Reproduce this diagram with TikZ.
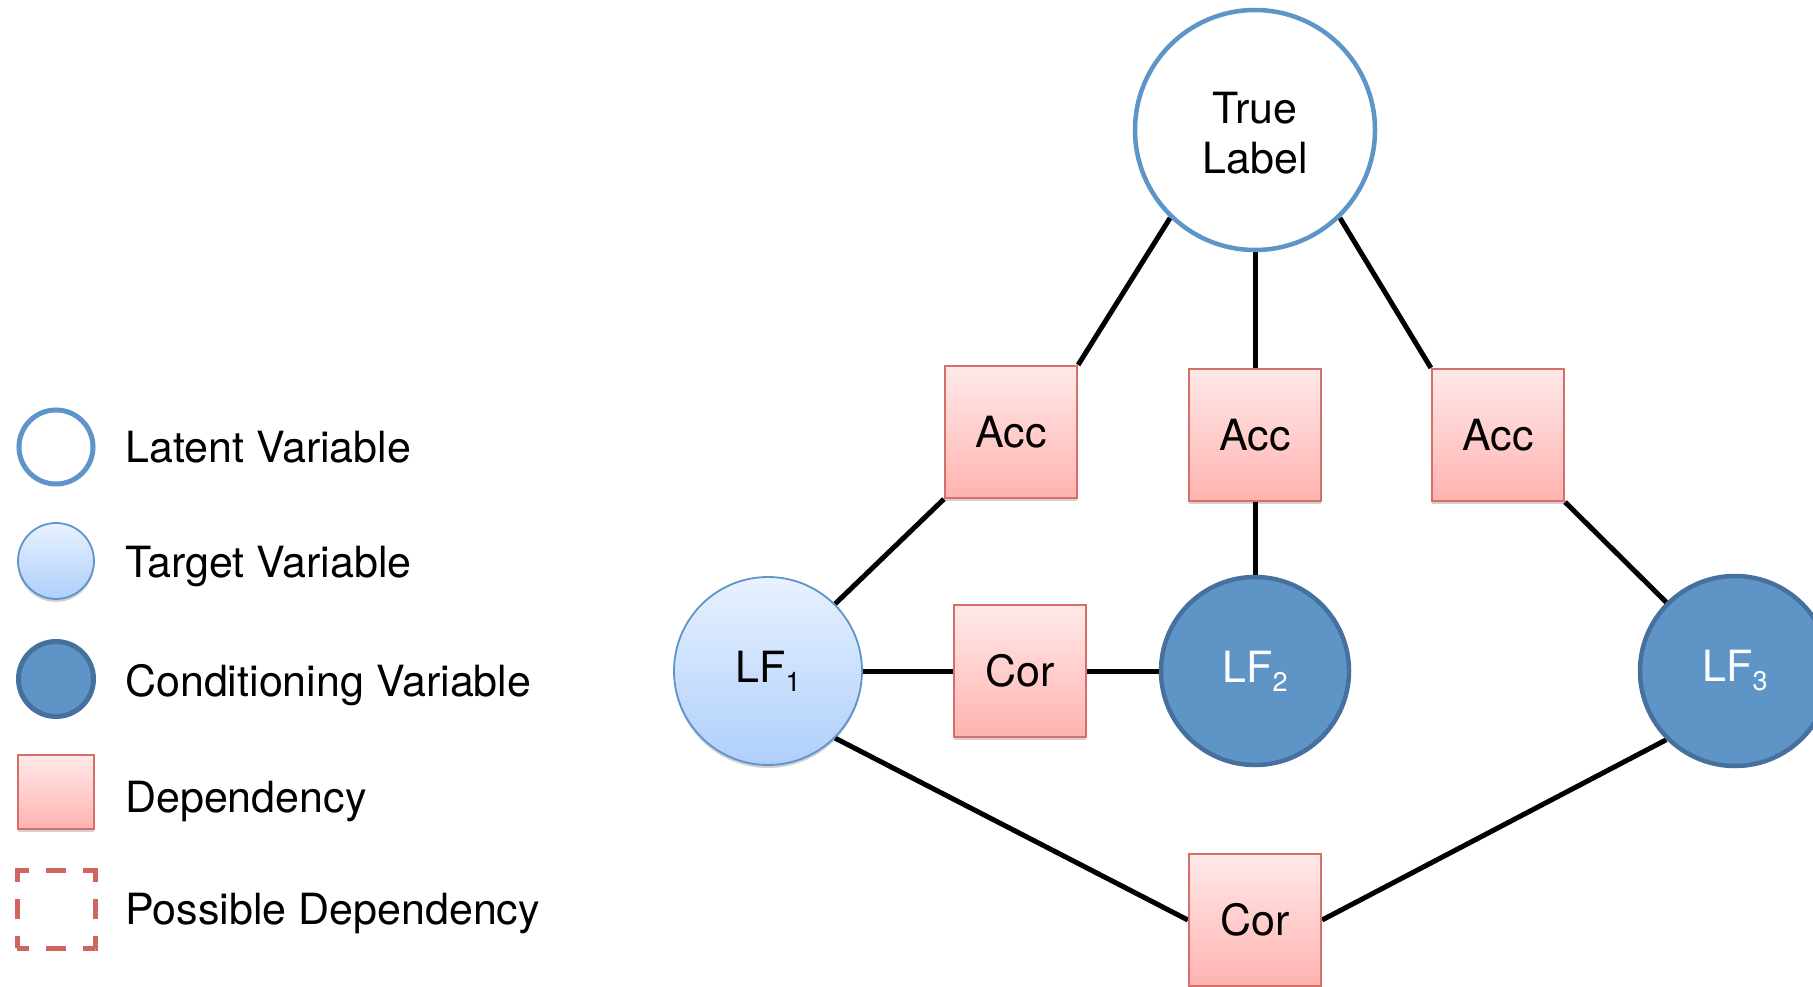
\documentclass[tikz,border=0pt]{standalone}
\usepackage{fontspec}
\setmainfont{TeX Gyre Heros}
\usetikzlibrary{shadows}
\definecolor{latentc}{HTML}{5E95C8}
\definecolor{condfill}{HTML}{5E94C6}
\definecolor{conddraw}{HTML}{46709E}
\definecolor{tgttop}{HTML}{E8F1FF}
\definecolor{tgtbot}{HTML}{AFCFFC}
\definecolor{deptop}{HTML}{FFE9E9}
\definecolor{depbot}{HTML}{FFB3B0}
\definecolor{depdraw}{HTML}{D46F6A}
\definecolor{possdraw}{HTML}{D0645F}
\pgfdeclarelayer{back}
\pgfdeclarelayer{bg}
\pgfsetlayers{back,bg,main}
\newcommand\lfsub[1]{\raisebox{-9pt}{\fontsize{27}{27}\selectfont #1}}
\begin{document}
\begin{tikzpicture}[x=1pt,y=-1pt,
  every node/.style={font=\fontsize{43}{50}\selectfont, inner sep=0pt},
  softshadow/.style={drop shadow={shadow xshift=0pt, shadow yshift=-3pt, opacity=0.18, fill=black}},
  latent/.style={circle, draw=latentc, line width=4.5pt, fill=white},
  target/.style={circle, draw=latentc, line width=1.8pt, top color=tgttop, bottom color=tgtbot, softshadow},
  cond/.style={circle, draw=conddraw, line width=4.5pt, fill=condfill, text=white},
  dep/.style={rectangle, draw=depdraw, line width=2.2pt, top color=deptop, bottom color=depbot, minimum size=132pt, softshadow},
  possdep/.style={rectangle, draw=possdraw, line width=5pt, minimum size=78pt, dash pattern={on 12pt off 17pt on 20pt off 17pt on 12pt off 0pt}},
  legtext/.style={anchor=base west},
  link/.style={line width=5pt, black}
]
\begin{pgfonlayer}{back}
\fill[white] (0,0) rectangle (1813,987);
\end{pgfonlayer}
\useasboundingbox (0,0) rectangle (1813,987);

% legend
\node[latent, minimum size=74pt, line width=5pt] (lgl) at (56,447) {};
\node[target, minimum width=76pt, minimum height=74pt] (lgt) at (56,561) {};
\node[cond, minimum size=75pt, line width=5pt] (lgc) at (56,679) {};
\node[dep, minimum width=76pt, minimum height=74pt] (lgd) at (56,792) {};
\node[possdep] (lgp) at (56,909) {};
\node[legtext] (tl1) at (125,462) {Latent Variable};
\node[legtext] (tl2) at (125,577) {Target Variable};
\node[legtext] (tl3) at (125,696) {Conditioning Variable};
\node[legtext] (tl4) at (125,812) {Dependency};
\node[legtext] (tl5) at (125,924) {Possible Dependency};

% graph
\node[latent, minimum size=240pt] (tl) at (1255,130) {};
\node[align=center] (tltext) at (1255,133) {True\\Label};
\node[dep] (acc1) at (1011,432) {Acc};
\node[dep] (acc2) at (1255,435) {Acc};
\node[dep] (acc3) at (1498,435) {Acc};
\node[target, minimum size=188pt] (lf1) at (768,671) {LF\lfsub{1}};
\node[dep] (cor1) at (1020,671) {Cor};
\node[cond, minimum size=188pt] (lf2) at (1255,671) {LF\lfsub{2}};
\node[cond, minimum size=190pt] (lf3) at (1735,671) {LF\lfsub{3}};
\node[dep] (cor2) at (1255,920) {Cor};

\begin{pgfonlayer}{bg}
\draw[link] (tl.-134) -- (acc1.north east);
\draw[link] (tl.south) -- (acc2.north);
\draw[link] (tl.-46) -- (acc3.north west);
\draw[link] (acc1.south west) -- (lf1.45);
\draw[link] (acc2.south) -- (lf2.north);
\draw[link] (acc3.south east) -- (lf3.135);
\draw[link] (lf1.east) -- (cor1.west);
\draw[link] (cor1.east) -- (lf2.west);
\draw[link] (lf1.-45) -- (cor2.west);
\draw[link] (lf3.-135) -- (cor2.east);
\end{pgfonlayer}
\end{tikzpicture}
\end{document}
